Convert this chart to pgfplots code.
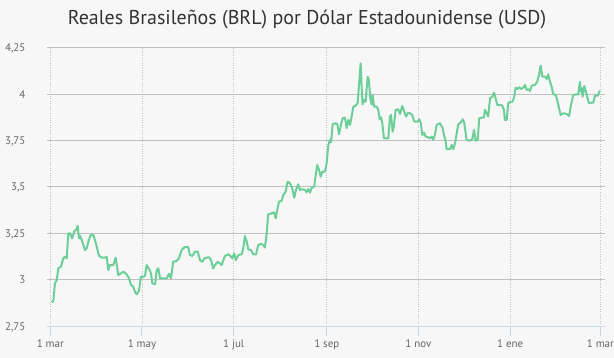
\documentclass[border=0pt]{standalone}
\usepackage{pgfplots}
\pgfplotsset{compat=1.18}
\usepackage{fontspec}
\setmainfont{PT Sans}
\definecolor{bgc}{HTML}{F7F7F7}
\definecolor{gridc}{HTML}{C0C0C0}
\definecolor{axc}{HTML}{CCD6EB}
\definecolor{labc}{HTML}{666666}
\definecolor{titc}{HTML}{333333}
\definecolor{linec}{RGB}{108,206,152}
\begin{document}
\begin{tikzpicture}
\fill[bgc] (-47bp,-32bp) rectangle (567bp,326bp);
\begin{axis}[
  at={(0,0)}, anchor=south west,
  scale only axis, width=558bp, height=278bp,
  xmin=-2.2, xmax=369.1, ymin=2.75, ymax=4.25,
  xtick={0,61,122,184,245,306,366},
  xticklabels={1 mar,1 may,1 jul,1 sep,1 nov,1 ene,1 mar},
  ytick={2.75,3,3.25,3.5,3.75,4,4.25},
  yticklabels={{2,75},{3},{3,25},{3,5},{3,75},{4},{4,25}},
  axis x line*=bottom, axis y line*=left,
  x axis line style={draw=axc, line width=1bp, -},
  y axis line style={draw=none},
  xmajorgrids, ymajorgrids,
  major x grid style={gridc, dotted, line width=0.8bp},
  major y grid style={gridc, solid, line width=1bp},
  tick align=outside, major tick length=10bp,
  xtick style={draw=axc, line width=1bp},
  ytick style={draw=none},
  ticklabel style={font=\fontsize{11bp}{13bp}\selectfont, text=labc},
  xticklabel style={anchor=base, yshift=-11bp},
  yticklabel style={anchor=base east, xshift=-8bp, yshift=-4bp},
  clip=false,
]
\addplot[color=linec, line width=2bp, line join=round, mark=none] table {
x y
0.9 2.878
2.0 2.885
3.1 2.980
4.3 2.998
5.3 3.061
7.1 3.070
8.6 3.115
9.8 3.124
10.9 3.115
12.0 3.250
13.1 3.250
14.6 3.223
16.0 3.263
17.1 3.268
18.2 3.290
19.1 3.223
19.8 3.237
21.3 3.205
23.1 3.160
24.2 3.169
25.3 3.205
26.9 3.241
28.6 3.241
29.7 3.214
30.9 3.178
32.4 3.129
34.2 3.119
36.4 3.119
37.5 3.124
38.6 3.052
39.7 3.079
41.9 3.079
43.5 3.119
44.2 3.079
45.2 3.025
47.0 3.034
48.6 3.043
50.8 3.029
52.4 3.007
53.7 2.971
55.2 2.962
56.4 2.932
57.5 2.921
59.0 2.939
60.3 3.016
61.9 3.016
63.0 3.020
64.1 3.079
65.7 3.058
67.0 3.034
67.9 2.980
69.7 2.975
70.8 3.052
71.9 3.061
73.0 3.007
75.2 3.007
77.4 3.007
79.0 3.031
80.3 3.007
81.8 3.097
84.1 3.101
85.6 3.115
87.4 3.160
89.2 3.175
91.8 3.175
92.9 3.133
94.5 3.128
96.3 3.151
98.1 3.151
99.6 3.106
101.1 3.097
102.5 3.115
104.1 3.119
105.6 3.121
106.9 3.106
108.4 3.061
109.6 3.079
111.4 3.097
112.9 3.088
114.0 3.079
116.2 3.128
118.4 3.137
119.8 3.128
121.1 3.115
122.4 3.142
123.4 3.106
125.1 3.133
127.3 3.137
128.4 3.169
129.5 3.236
130.7 3.205
131.7 3.164
133.5 3.160
135.1 3.137
136.9 3.137
138.4 3.187
140.2 3.193
141.7 3.187
142.8 3.173
144.0 3.250
145.0 3.353
147.3 3.358
148.8 3.364
150.0 3.331
151.0 3.376
152.2 3.421
154.0 3.426
155.0 3.457
156.6 3.475
157.9 3.529
159.5 3.520
161.0 3.493
162.3 3.442
163.5 3.484
165.0 3.515
166.1 3.484
167.3 3.488
169.5 3.484
170.6 3.472
171.7 3.489
172.8 3.469
173.9 3.496
175.6 3.502
176.6 3.565
177.6 3.619
178.8 3.592
179.9 3.556
181.0 3.583
182.8 3.583
183.9 3.628
185.0 3.727
186.1 3.754
186.8 3.741
187.9 3.839
189.4 3.844
191.0 3.839
192.1 3.785
193.4 3.835
194.5 3.871
196.1 3.874
197.2 3.817
198.3 3.862
199.4 3.835
200.5 3.880
201.6 3.933
203.2 3.939
204.5 3.952
205.6 4.068
206.5 4.168
207.2 4.033
207.8 3.946
208.7 3.970
209.8 3.960
211.2 4.095
212.0 4.078
212.9 3.979
213.8 3.946
214.5 3.997
215.4 3.933
217.2 3.933
218.2 3.916
219.2 3.865
220.1 3.876
220.9 3.844
222.0 3.763
224.9 3.763
226.0 3.880
226.7 3.889
227.8 3.799
228.7 3.835
229.8 3.916
231.5 3.919
232.7 3.894
234.2 3.937
235.5 3.907
236.7 3.880
238.2 3.901
239.3 3.898
240.8 3.889
242.2 3.853
244.4 3.853
245.5 3.865
246.6 3.844
247.5 3.781
248.6 3.793
249.8 3.772
251.5 3.768
252.6 3.763
253.7 3.772
254.8 3.754
255.9 3.781
257.1 3.835
259.3 3.844
261.1 3.817
261.9 3.781
263.1 3.745
263.7 3.704
265.9 3.704
267.1 3.727
268.1 3.704
269.3 3.736
270.4 3.790
271.5 3.839
273.0 3.847
274.4 3.865
275.4 3.847
277.0 3.754
279.2 3.750
280.8 3.758
281.9 3.808
283.0 3.750
284.4 3.754
285.4 3.871
287.0 3.874
288.6 3.876
289.2 3.916
290.4 3.898
291.4 3.880
292.6 3.979
294.1 3.987
295.2 4.009
296.3 3.979
297.4 3.943
299.2 3.943
300.7 3.939
301.9 3.916
302.5 3.862
303.7 3.862
304.7 3.952
305.9 3.960
307.6 3.960
308.7 3.987
309.6 4.036
311.0 4.029
312.0 4.038
313.2 4.029
314.7 4.036
315.8 4.051
317.0 4.024
318.0 4.027
319.2 4.018
320.3 4.047
322.5 4.051
324.0 4.068
325.2 4.105
326.3 4.155
327.4 4.095
329.2 4.095
330.3 4.083
331.3 4.108
332.5 4.068
333.6 4.041
334.7 4.000
336.3 3.997
337.3 3.970
338.5 3.925
339.6 3.889
341.4 3.898
343.6 3.894
345.2 3.883
346.5 3.943
348.0 3.997
350.3 4.000
351.3 4.000
352.4 4.068
353.1 4.014
353.6 4.033
354.2 3.987
355.3 4.045
356.4 4.014
357.5 3.979
358.4 3.952
360.2 3.955
361.3 3.955
362.5 3.993
364.3 3.993
365.3 4.014
365.9 4.018
};
\end{axis}
\node[anchor=base, text=titc, font=\fontsize{20bp}{22bp}\selectfont] at (260bp,301bp) {Reales Brasileños (BRL) por Dólar Estadounidense (USD)};
\pgfresetboundingbox
\path[use as bounding box] (-47bp,-32bp) rectangle (567bp,326bp);
\end{tikzpicture}
\end{document}
